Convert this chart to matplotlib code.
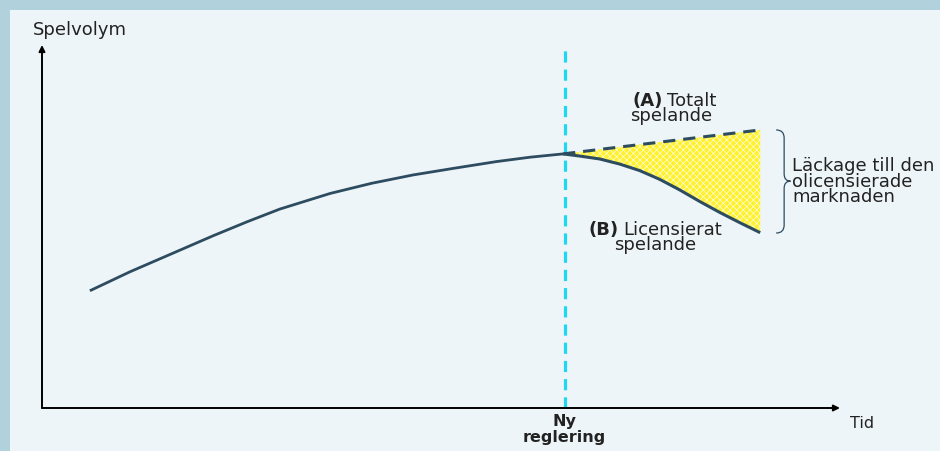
import matplotlib
matplotlib.use("Agg")
import matplotlib.pyplot as plt
import numpy as np
from matplotlib.patches import Rectangle, PathPatch
from matplotlib.path import Path

# volume over time (arbitrary units, 0-100 on both axes)
hist_t = [6.0, 11.0, 17.3, 21.5, 25.7, 29.8, 36.1, 41.3, 46.5, 51.8, 57.0, 61.2, 65.3]
hist_v = [32.3, 37.5, 43.5, 47.5, 51.3, 54.8, 59.1, 61.9, 64.2, 66.1, 67.9, 69.1, 70.0]

# (B) licensed gambling after the new regulation
lic_t = [65.3, 67.4, 69.9, 72.4, 74.9, 77.4, 79.9, 82.5, 85.0, 87.5, 90.0]
lic_v = [70.0, 69.4, 68.6, 67.2, 65.4, 63.0, 60.1, 56.8, 53.8, 51.0, 48.3]

# (A) total gambling
tot_t = [65.3, 90.0]
tot_v = [70.0, 76.6]

reg_t = 65.5

line_col = "#2d4c60"
plt.rcParams["hatch.linewidth"] = 0.4

fig = plt.figure(figsize=(9.4, 4.51), dpi=100, facecolor="#b1d1dd")
bg = fig.add_axes([10 / 940, 0, 1, 1 - 10 / 451], zorder=-5)
bg.axis("off")
bg.add_patch(Rectangle((0, 0), 1, 1, transform=bg.transAxes, facecolor="#eef5f8",
                       edgecolor="none"))

ax = fig.add_axes([42 / 940, 43 / 451, 798 / 940, 363 / 451])
ax.set_xlim(0, 100)
ax.set_ylim(0, 100)
ax.axis("off")

# axes arrows
for end in [(100, 0), (0, 100)]:
    ax.annotate("", xy=end, xytext=(0, 0), annotation_clip=False,
                arrowprops=dict(arrowstyle="-|>", color="black", lw=1.4, mutation_scale=9,
                                shrinkA=0, shrinkB=0))

# leakage area
ax.fill(np.r_[lic_t, tot_t[::-1]], np.r_[lic_v, tot_v[::-1]], facecolor="#fff12e",
        edgecolor="white", hatch="xxxxx", lw=0, zorder=1)

ax.axvline(reg_t, ymin=0, ymax=0.99, color="#1cd8f3", lw=2.3, ls=(0, (3.5, 2.2)), zorder=2)

ax.plot(hist_t, hist_v, color=line_col, lw=2, solid_capstyle="butt", zorder=3)
ax.plot(lic_t, lic_v, color=line_col, lw=2.2, solid_capstyle="butt", zorder=3)
ax.plot(tot_t, tot_v, color=line_col, lw=2.2, ls=(0, (4, 2.6)), zorder=3)

# brace
bx0, bx1, bx2 = 92.0, 93.0, 93.8
by0, bym, by1 = 76.6, 62.5, 48.2
verts = [(bx0, by0), (bx1, by0), (bx1, by0 - 2.2), (bx1, bym + 2.0),
         (bx1, bym), (bx2, bym), (bx1, bym), (bx1, bym - 2.0),
         (bx1, by1 + 2.2), (bx1, by1), (bx0, by1)]
codes = [Path.MOVETO, Path.CURVE3, Path.CURVE3, Path.LINETO,
         Path.CURVE3, Path.CURVE3, Path.CURVE3, Path.CURVE3,
         Path.LINETO, Path.CURVE3, Path.CURVE3]
ax.add_patch(PathPatch(Path(verts, codes), facecolor="none", edgecolor=line_col,
                       lw=0.9, clip_on=False))

fs = 13
txt = dict(color="#222222", clip_on=False)
ax.text(-1.1, 104.1, "Spelvolym", fontsize=fs, va="center", ha="left", **txt)
ax.text(101.3, -4.2, "Tid", fontsize=11.5, va="center", ha="left", **txt)
ax.text(reg_t, -3.6, "Ny", fontsize=11.5, fontweight="bold", va="center", ha="center", **txt)
ax.text(reg_t, -8.0, "reglering", fontsize=11.5, fontweight="bold", va="center", ha="center", **txt)

ax.text(77.8, 84.6, "(A)", fontsize=fs, fontweight="bold", va="center", ha="right", **txt)
ax.text(78.3, 84.6, "Totalt", fontsize=fs, va="center", ha="left", **txt)
ax.text(78.8, 80.4, "spelande", fontsize=fs, va="center", ha="center", **txt)

ax.text(72.3, 49.0, "(B)", fontsize=fs, fontweight="bold", va="center", ha="right", **txt)
ax.text(72.8, 49.0, "Licensierat", fontsize=fs, va="center", ha="left", **txt)
ax.text(76.8, 44.9, "spelande", fontsize=fs, va="center", ha="center", **txt)

ax.text(94.0, 62.3, "Läckage till den\nolicensierade\nmarknaden", fontsize=fs,
        va="center", ha="left", linespacing=0.83, **txt)

fig.savefig("out.png", dpi=100, facecolor=fig.get_facecolor())
